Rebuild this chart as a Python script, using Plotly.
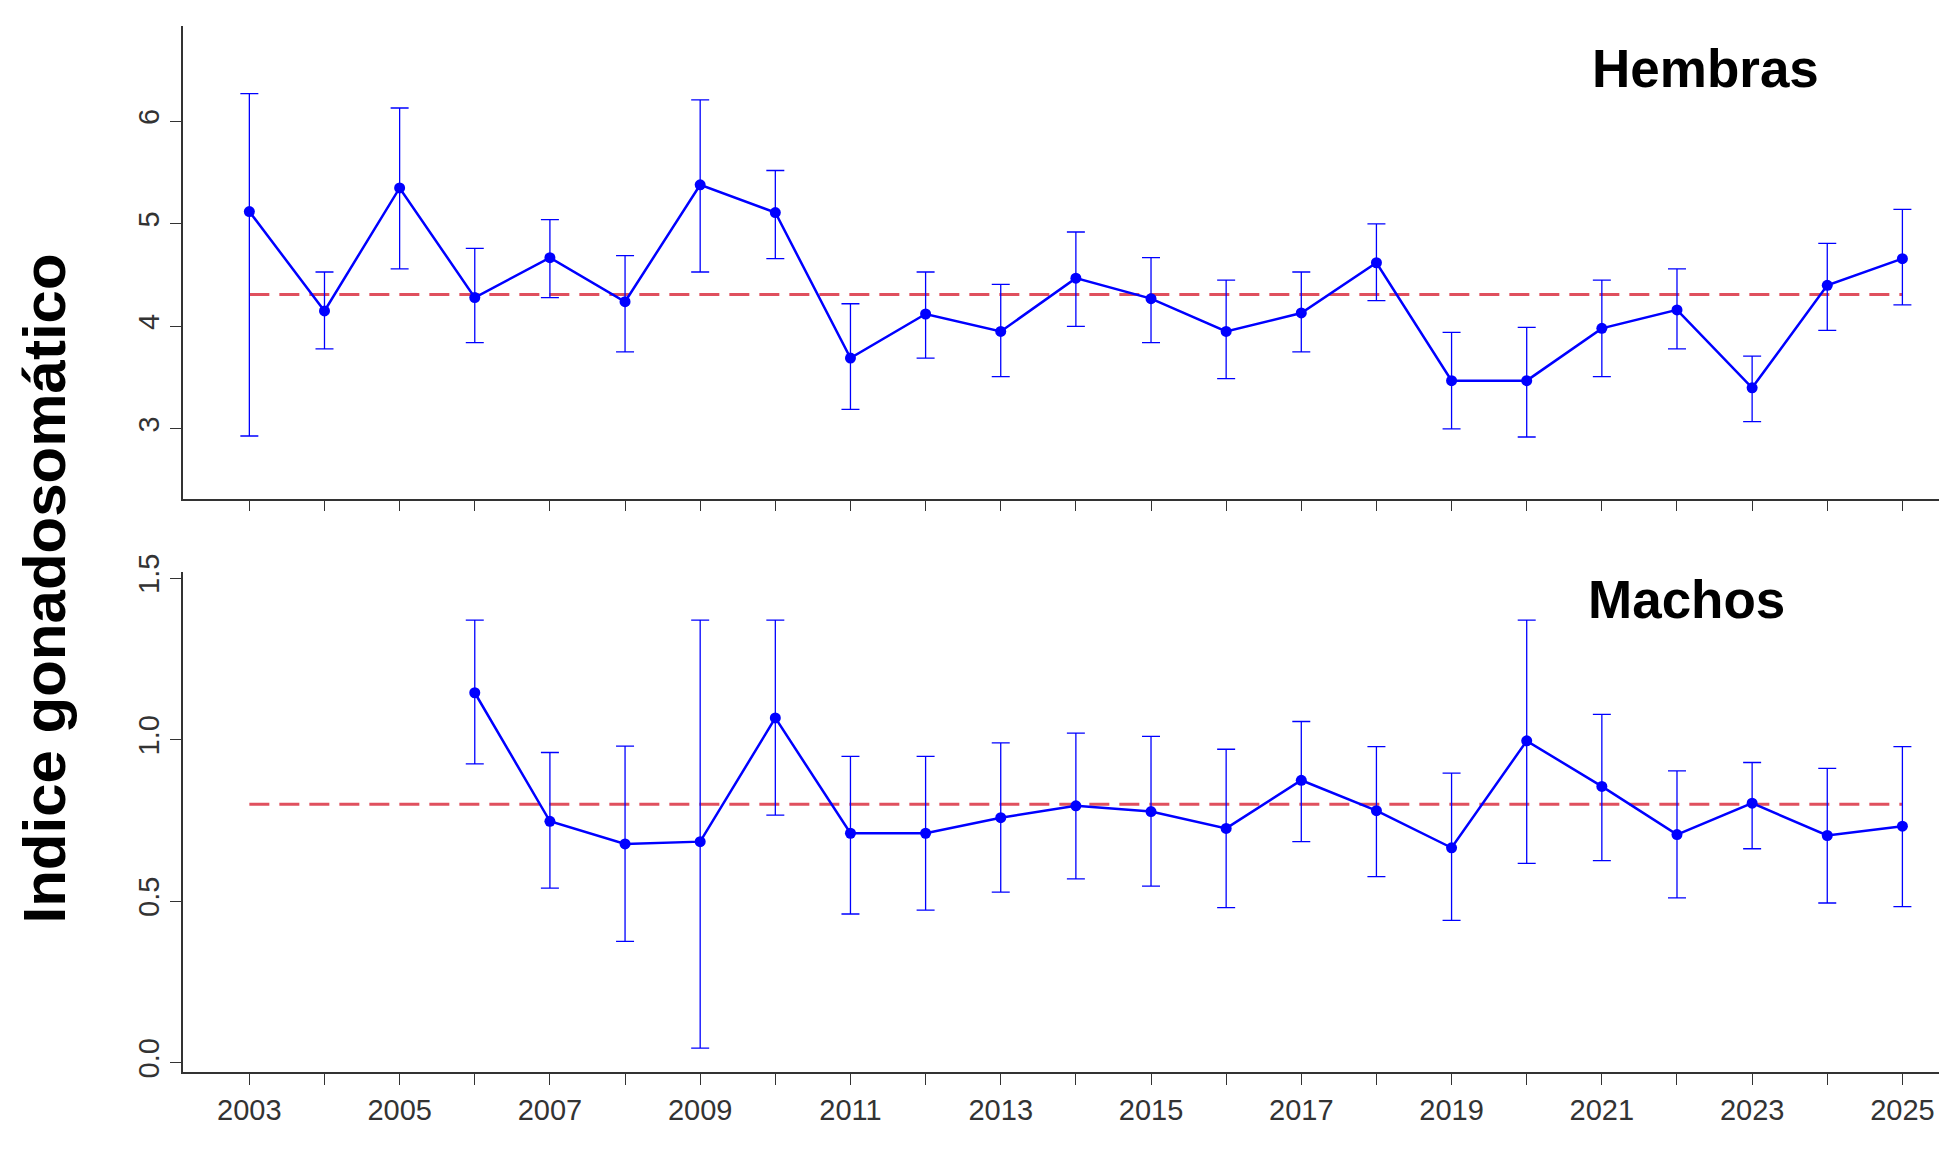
import plotly.graph_objects as go
from plotly.subplots import make_subplots

years_h = list(range(2003, 2026))
hem_mean = [5.12, 4.15, 5.35, 4.28, 4.67, 4.24, 5.38, 5.11, 3.69, 4.12, 3.95, 4.47,
            4.27, 3.95, 4.13, 4.62, 3.47, 3.47, 3.98, 4.16, 3.40, 4.40, 4.66]
hem_up = [6.27, 4.53, 6.13, 4.76, 5.04, 4.69, 6.21, 5.52, 4.22, 4.53, 4.41, 4.92,
          4.67, 4.45, 4.53, 5.00, 3.94, 3.99, 4.45, 4.56, 3.71, 4.81, 5.14]
hem_lo = [2.93, 3.78, 4.56, 3.84, 4.28, 3.75, 4.53, 4.66, 3.19, 3.69, 3.51, 4.00,
          3.84, 3.49, 3.75, 4.25, 3.00, 2.92, 3.51, 3.78, 3.07, 3.96, 4.21]
hem_avg = 4.31

years_m = list(range(2006, 2026))
mac_mean = [1.145, 0.747, 0.677, 0.684, 1.067, 0.71, 0.71, 0.758, 0.795, 0.777,
            0.725, 0.874, 0.78, 0.665, 0.996, 0.855, 0.706, 0.803, 0.703, 0.732]
mac_up = [1.37, 0.96, 0.98, 1.37, 1.37, 0.948, 0.948, 0.99, 1.02, 1.01,
          0.97, 1.056, 0.978, 0.896, 1.37, 1.078, 0.903, 0.929, 0.911, 0.978]
mac_lo = [0.925, 0.54, 0.375, 0.045, 0.766, 0.46, 0.472, 0.528, 0.569, 0.546,
          0.48, 0.684, 0.576, 0.44, 0.617, 0.625, 0.51, 0.662, 0.494, 0.483]
mac_avg = 0.80

blue = "#0000FF"
red = "#E0505E"

fig = make_subplots(rows=2, cols=1)

def add_series(row, x, m, up, lo, avg):
    fig.add_trace(go.Scatter(
        x=[2003, 2025], y=[avg, avg], mode="lines",
        line=dict(color=red, width=3, dash="20px,10px"), showlegend=False), row=row, col=1)
    fig.add_trace(go.Scatter(
        x=x, y=m, mode="lines+markers",
        line=dict(color=blue, width=2.5), marker=dict(color=blue, size=11),
        error_y=dict(type="data", symmetric=False,
                     array=[u - v for u, v in zip(up, m)],
                     arrayminus=[v - l for v, l in zip(m, lo)],
                     color=blue, thickness=1.3, width=9),
        showlegend=False), row=row, col=1)

add_series(1, years_h, hem_mean, hem_up, hem_lo, hem_avg)
add_series(2, years_m, mac_mean, mac_up, mac_lo, mac_avg)

axis_common = dict(showline=True, linecolor="#333", linewidth=1.5, showgrid=False,
                   zeroline=False, ticks="outside", ticklen=11, tickcolor="#333",
                   tickfont=dict(family="Liberation Sans", size=29, color="#333"))

fig.update_xaxes(**axis_common, range=[2002.12, 2025.7], dtick=1, showticklabels=False,
                 domain=[0.09, 1.0])
fig.update_xaxes(showticklabels=True, tickvals=list(range(2003, 2026, 2)),
                 minor=dict(dtick=1, ticks="outside", ticklen=11, tickcolor="#333"),
                 row=2, col=1)
fig.update_yaxes(**axis_common, tickangle=-90)
fig.update_yaxes(range=[2.32, 6.93], tickvals=[3, 4, 5, 6], domain=[0.58, 1.0],
                 row=1, col=1)
fig.update_yaxes(range=[-0.03, 1.52], tickvals=[0.0, 0.5, 1.0, 1.5],
                 ticktext=["0.0", "0.5", "1.0", "1.5"], domain=[0.07, 0.515],
                 row=2, col=1)

fig.add_annotation(text="<b>Hembras</b>", x=0.872, y=0.962, xref="paper", yref="paper",
                   xanchor="center", yanchor="middle", showarrow=False,
                   font=dict(family="Liberation Sans", size=53, color="black"))
fig.add_annotation(text="<b>Machos</b>", x=0.862, y=0.49, xref="paper", yref="paper",
                   xanchor="center", yanchor="middle", showarrow=False,
                   font=dict(family="Liberation Sans", size=53, color="black"))
fig.add_annotation(text="<b>Indice gonadosomático</b>", x=0.019, y=0.5, xref="paper",
                   yref="paper", xanchor="center", yanchor="middle", textangle=-90,
                   showarrow=False,
                   font=dict(family="Liberation Sans", size=60, color="black"))

fig.update_layout(width=1947, height=1149, paper_bgcolor="white", plot_bgcolor="white",
                  margin=dict(l=0, r=0, t=0, b=0))
fig.write_html("out.html")
